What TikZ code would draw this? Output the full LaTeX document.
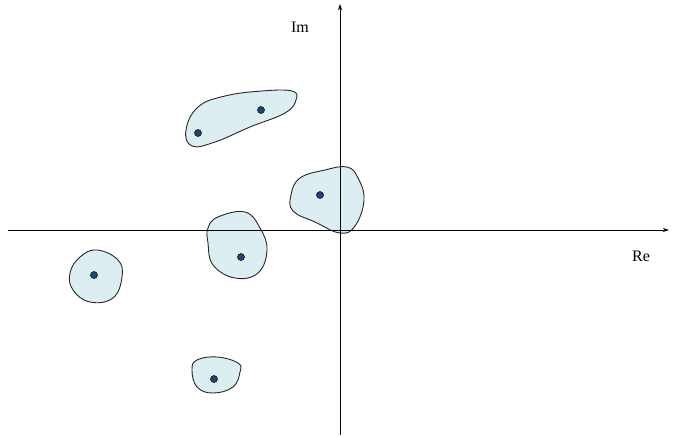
\documentclass[tikz,border=0pt]{standalone}
\usepackage{fontspec}
\setmainfont{Liberation Serif}
\usetikzlibrary{arrows.meta}
\definecolor{blobfill}{RGB}{221,238,243}
\definecolor{dotfill}{RGB}{30,72,120}
\begin{document}
\begin{tikzpicture}[x=1pt,y=-1pt,
  blob/.style={draw=black!85,fill=blobfill,line width=0.9pt},
  pole/.style={circle,draw=black,fill=dotfill,inner sep=0pt,minimum size=7pt,line width=0.5pt},
  axis/.style={line width=0.9pt,-{Stealth[length=6pt,width=4pt]}},
  lbl/.style={font=\fontsize{16}{18}\selectfont,inner sep=0pt}]
\useasboundingbox (0,0) rectangle (674,436);
% blobs
\draw[blob] plot[smooth cycle,tension=0.7] coordinates {(186,130) (198,107) (225,96) (262,91) (292,91) (296,100) (285,113) (250,127) (215,142) (192,146)};
\draw[blob] plot[smooth cycle,tension=0.7] coordinates {(291,195) (300,178) (325,170) (347,167) (358,178) (364,200) (355,226) (340,233) (315,222) (293,211)};
\draw[blob] plot[smooth cycle,tension=0.7] coordinates {(208,228) (218,217) (245,212) (260,228) (267,250) (258,273) (235,278) (213,265) (208,243)};
\draw[blob] plot[smooth cycle,tension=0.7] coordinates {(97,250) (118,260) (122,277) (113,298) (90,302) (73,290) (70,273) (80,257)};
\draw[blob] plot[smooth cycle,tension=0.7] coordinates {(192,370) (197,360) (217,357) (238,363) (240,372) (233,387) (213,393) (197,387)};
% axes
\coordinate (xs) at (8,230);
\coordinate (xe) at (669,230);
\coordinate (ys) at (340,435);
\coordinate (ye) at (340,4);
\draw[axis] (xs) -- (xe);
\draw[axis] (ys) -- (ye);
\node[lbl] (im) at (300,27) {Im};
\node[lbl] (re) at (641,256) {Re};
% poles
\node[pole] (p1) at (198,133) {};
\node[pole] (p2) at (261,110) {};
\node[pole] (p3) at (320,195) {};
\node[pole] (p4) at (241,257) {};
\node[pole] (p5) at (94,275) {};
\node[pole] (p6) at (214,379) {};
\end{tikzpicture}
\end{document}
